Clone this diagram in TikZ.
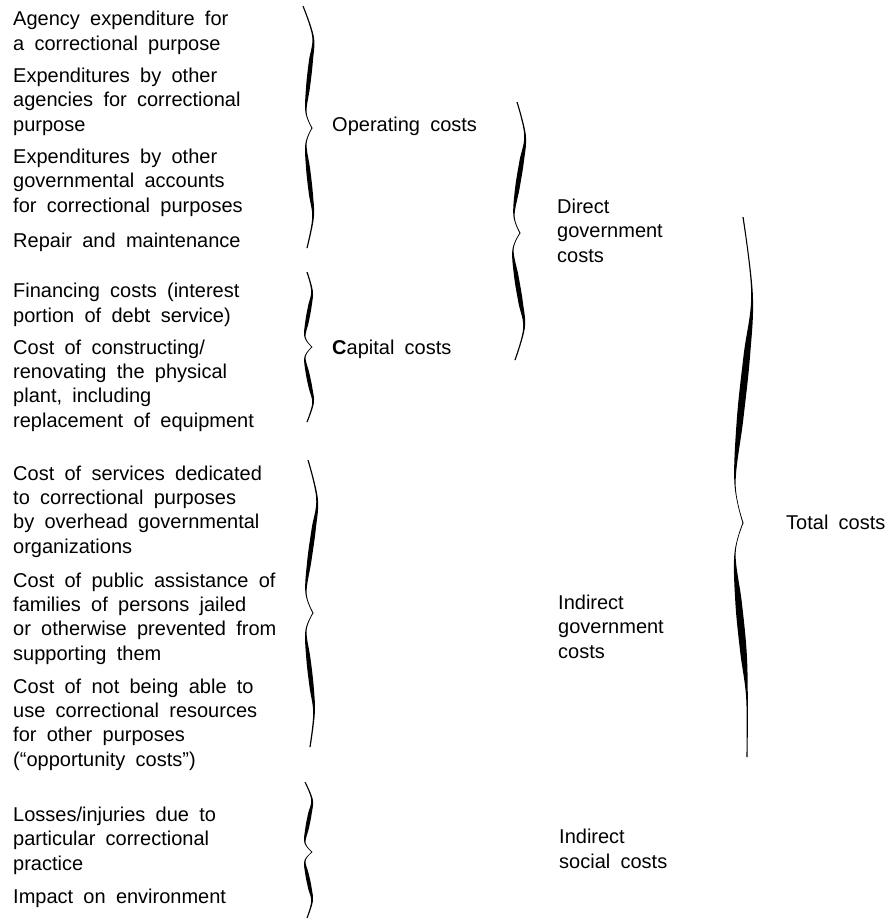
\documentclass[tikz,border=0pt]{standalone}
\usepackage{fontspec}
\setmainfont[WordSpace=1.85]{Liberation Sans}
\newcommand\halfbrace[7]{%
 % #1 xend, #2 yend, #3 xbulge, #4 xdip, #5 xtip, #6 ytip, #7 thickness
 \fill plot[smooth, tension=0.6] coordinates {
   ({#1+0.6},{#2})
   ({#3+0.8},{#2+0.25*(#6-#2)})
   ({#3+0.3*(#4-#3)+#7/2},{#2+0.45*(#6-#2)})
   ({#3+0.7*(#4-#3)+#7/2},{#2+0.66*(#6-#2)})
   ({#4+0.6},{#2+0.87*(#6-#2)})
   ({#5+0.5},{#6})
 } -- plot[smooth, tension=0.6] coordinates {
   ({#5-0.5},{#6})
   ({#4-0.6},{#2+0.87*(#6-#2)})
   ({#3+0.7*(#4-#3)-#7/2},{#2+0.66*(#6-#2)})
   ({#3+0.3*(#4-#3)-#7/2},{#2+0.45*(#6-#2)})
   ({#3-0.8},{#2+0.25*(#6-#2)})
   ({#1-0.6},{#2})
 } -- cycle;
}
\begin{document}
\begin{tikzpicture}[x=1pt,y=-1pt,
  lbl/.style={anchor=base west, inner sep=0pt, align=left,
    font=\fontsize{20}{24.3}\selectfont}]
\useasboundingbox (0,0) rectangle (890,921);
% left column (y = baseline of the last line)
\node[lbl] (a1) at (13,50) {Agency expenditure for\\a correctional purpose};
\node[lbl] (a2) at (13,131) {Expenditures by other\\agencies for correctional\\purpose};
\node[lbl] (a3) at (13,212) {Expenditures by other\\governmental accounts\\for correctional purposes};
\node[lbl] (a4) at (13,247) {Repair and maintenance};
\node[lbl] (a5) at (13,322) {Financing costs (interest\\portion of debt service)};
\node[lbl] (a6) at (13,427) {Cost of constructing/\\renovating the physical\\plant, including\\replacement of equipment};
\node[lbl] (a7) at (13,553) {Cost of services dedicated\\to correctional purposes\\by overhead governmental\\organizations};
\node[lbl] (a8) at (13,660) {Cost of public assistance of\\families of persons jailed\\or otherwise prevented from\\supporting them};
\node[lbl] (a9) at (13,766) {Cost of not being able to\\use correctional resources\\for other purposes\\(“opportunity costs”)};
\node[lbl] (a10) at (13,870) {Losses/injuries due to\\particular correctional\\practice};
\node[lbl] (a11) at (13,903) {Impact on environment};
% middle / right labels
\node[lbl] (op) at (332,131) {Operating costs};
\node[lbl] (cap) at (332,354) {\textbf{C}apital costs};
\node[lbl] (dir) at (557,262) {Direct\\government\\costs};
\node[lbl] (indg) at (558,658) {Indirect\\government\\costs};
\node[lbl] (inds) at (559,868) {Indirect\\social costs};
\node[lbl] (tot) at (786,529) {Total costs};
% braces
% operating
\halfbrace{303}{6}{313}{306}{312}{128}{4}
\halfbrace{307}{248}{313}{306}{312}{128}{4}
% capital
\halfbrace{307}{272}{312}{305}{312}{347}{3.6}
\halfbrace{307}{422}{313}{305}{312}{347}{3.6}
% direct government
\halfbrace{517}{102}{525}{514}{520}{233}{4.5}
\halfbrace{515}{360}{524}{513}{520}{233}{4.5}
% indirect government
\halfbrace{308}{460}{317}{306}{313}{613}{4.2}
\halfbrace{310}{747}{314}{306}{313}{613}{4.2}
% indirect social
\halfbrace{305}{782}{312}{305}{312}{852}{3.6}
\halfbrace{307}{918}{312}{305}{312}{852}{3.6}
% total
\halfbrace{743}{217}{752}{735}{743}{523}{6.5}
\halfbrace{747}{757}{747}{735}{743}{523}{6.5}
\end{tikzpicture}
\end{document}
